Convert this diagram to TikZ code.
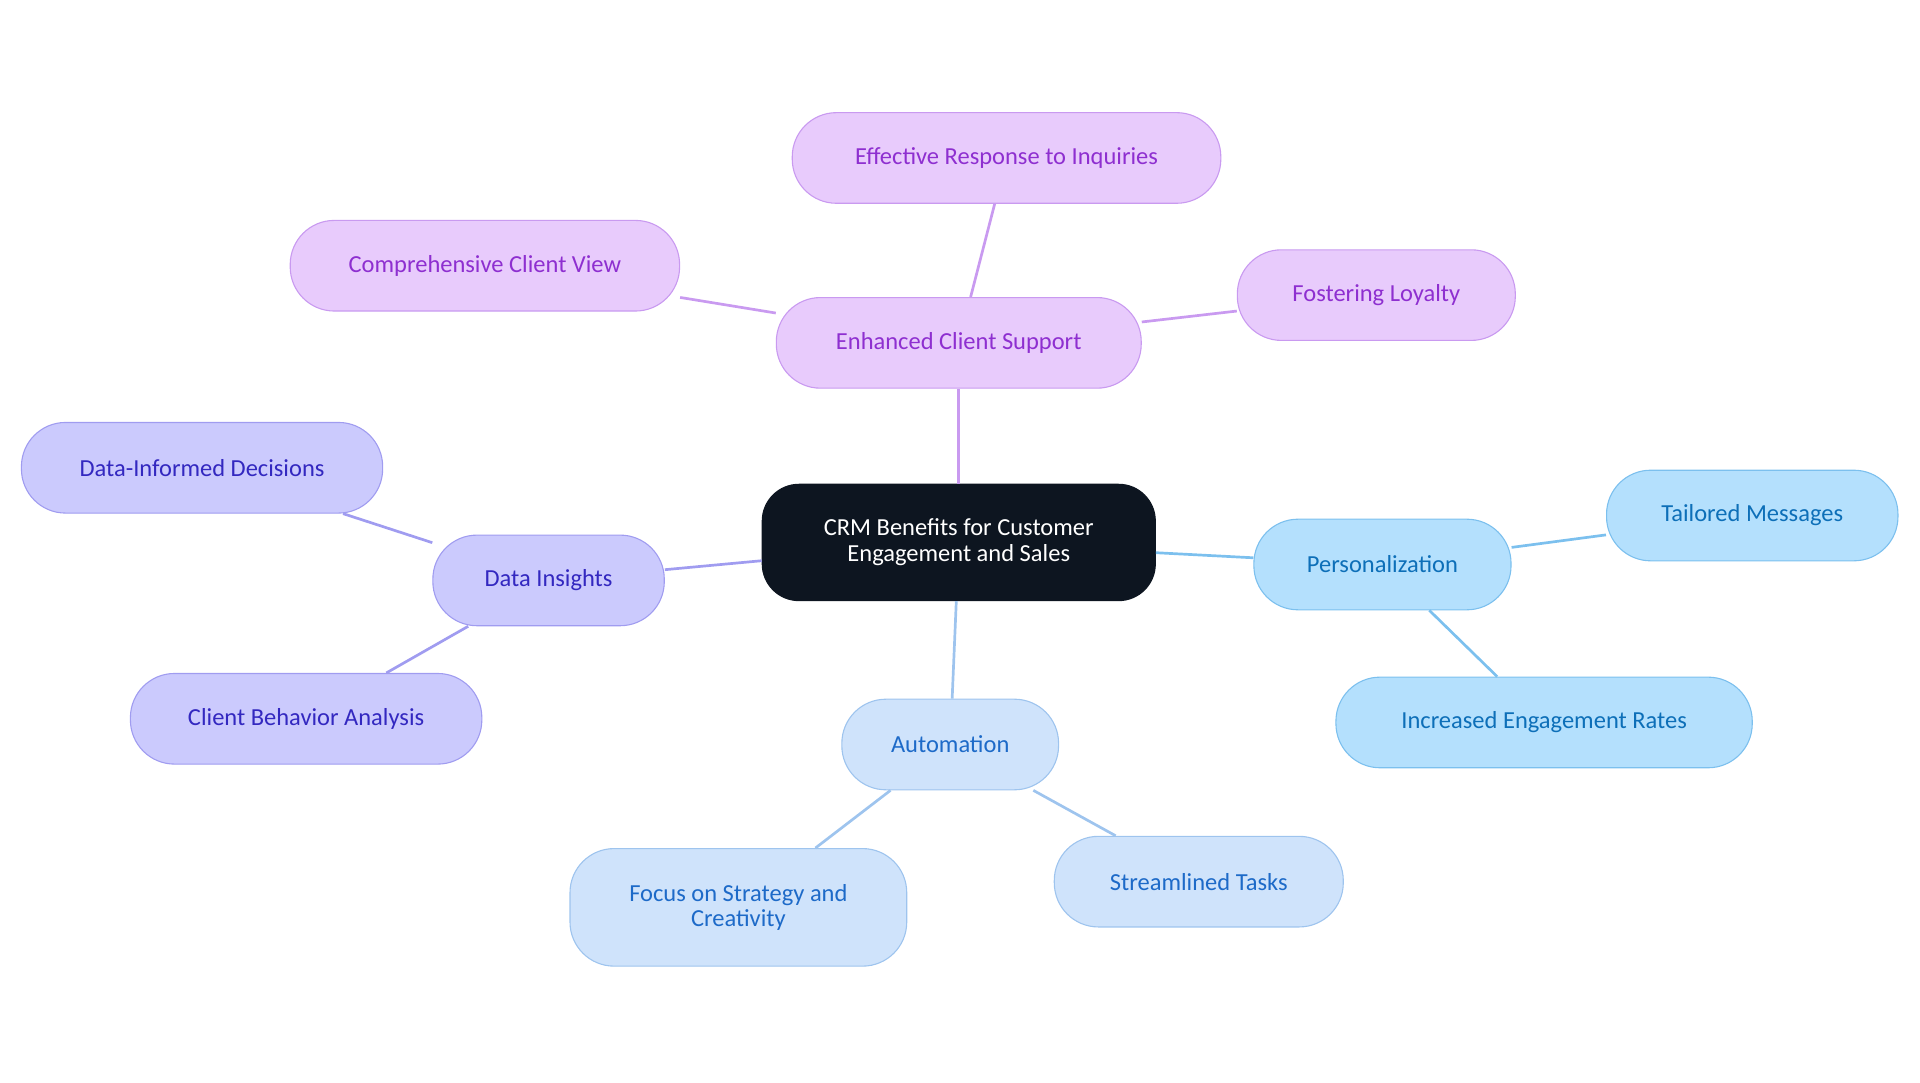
\documentclass[tikz,border=0pt]{standalone}
\usepackage{fontspec}
\setmainfont{Carlito}
\begin{document}
\begin{tikzpicture}[x=1pt,y=-1pt,
 base/.style={rounded corners=36pt,draw,line width=0.9pt,align=center,font=\fontsize{20}{21}\selectfont,inner sep=0pt,minimum height=74pt},
 pu/.style={base,fill={rgb,255:red,232;green,203;blue,252},draw={rgb,255:red,201;green,154;blue,240},text={rgb,255:red,142;green,47;blue,208}},
 ind/.style={base,fill={rgb,255:red,203;green,202;blue,253},draw={rgb,255:red,160;green,156;blue,240},text={rgb,255:red,51;green,40;blue,192}},
 pe/.style={base,fill={rgb,255:red,180;green,224;blue,253},draw={rgb,255:red,124;green,192;blue,238},text={rgb,255:red,13;green,111;blue,184}},
 au/.style={base,fill={rgb,255:red,207;green,227;blue,251},draw={rgb,255:red,158;green,196;blue,238},text={rgb,255:red,29;green,106;blue,200}},
 epu/.style={line width=2.2pt,draw={rgb,255:red,201;green,154;blue,240}},
 ein/.style={line width=2.2pt,draw={rgb,255:red,160;green,156;blue,240}},
 epe/.style={line width=2.2pt,draw={rgb,255:red,124;green,192;blue,238}},
 eau/.style={line width=2.2pt,draw={rgb,255:red,158;green,196;blue,238}}]
\useasboundingbox (0,0) rectangle (1568,884);
\node[base,rounded corners=30pt,fill={rgb,255:red,13;green,21;blue,32},draw={rgb,255:red,13;green,21;blue,32},text=white,minimum width=321pt,minimum height=95pt] (c) at (783,443) {CRM Benefits for Customer\\Engagement and Sales};
\node[pu,minimum width=298pt] (ecs) at (783,280) {Enhanced Client Support};
\node[pu,minimum width=350pt] (er) at (822,129) {Effective Response to Inquiries};
\node[pu,minimum width=318pt] (cv) at (396,217) {Comprehensive Client View};
\node[pu,minimum width=227pt] (fl) at (1124,241) {Fostering Loyalty};
\node[ind,minimum width=189pt] (di) at (448,474) {Data Insights};
\node[ind,minimum width=295pt] (dd) at (165,382) {Data-Informed Decisions};
\node[ind,minimum width=287pt] (cb) at (250,587) {Client Behavior Analysis};
\node[pe,minimum width=210pt] (pz) at (1129,461) {Personalization};
\node[pe,minimum width=238pt] (tm) at (1431,421) {Tailored Messages};
\node[pe,minimum width=340pt] (ie) at (1261,590) {Increased Engagement Rates};
\node[au,minimum width=177pt] (au) at (776,608) {Automation};
\node[au,minimum width=275pt,minimum height=96pt] (fs) at (603,741) {Focus on Strategy and\\Creativity};
\node[au,minimum width=236pt] (st) at (979,720) {Streamlined Tasks};
\draw[epu] (c) -- (ecs); \draw[epu] (ecs) -- (er); \draw[epu] (ecs) -- (cv); \draw[epu] (ecs) -- (fl);
\draw[ein] (c) -- (di); \draw[ein] (di) -- (dd); \draw[ein] (di) -- (cb);
\draw[epe] (c) -- (pz); \draw[epe] (pz) -- (tm); \draw[epe] (pz) -- (ie);
\draw[eau] (c) -- (au); \draw[eau] (au) -- (fs); \draw[eau] (au) -- (st);
\end{tikzpicture}
\end{document}
